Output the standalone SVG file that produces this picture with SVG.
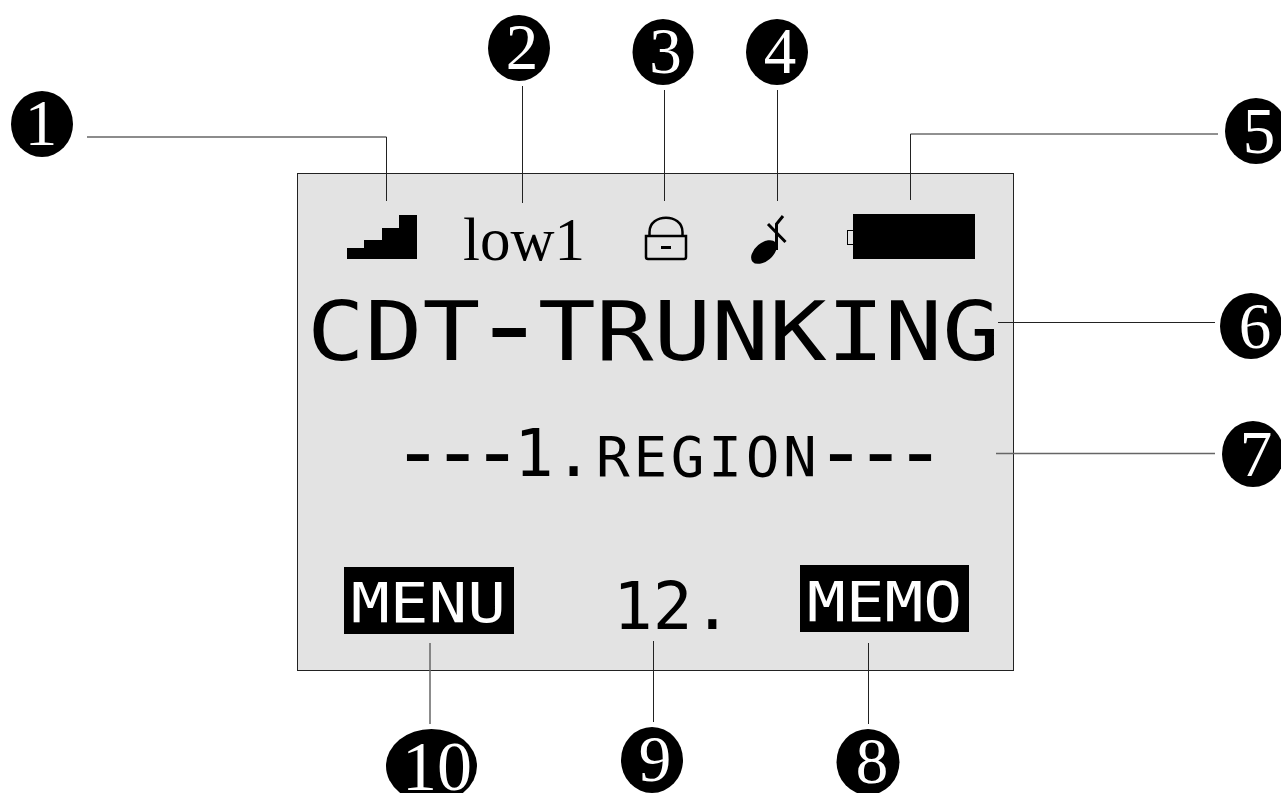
<svg xmlns="http://www.w3.org/2000/svg" width="1281" height="793" viewBox="0 0 1281 793">
<style>
.b{fill:#000}
.n{font-family:"Liberation Serif",serif;fill:#fff;text-anchor:middle;font-size:65px}
.m{font-family:"DejaVu Sans Mono",monospace;fill:#000}
.w{font-family:"DejaVu Sans Mono",monospace;fill:#fff;font-size:55px}
.c{fill:none;stroke:#222;stroke-width:1}
.g{fill:none;stroke:#666;stroke-width:1.5}
</style>
<rect width="1281" height="793" fill="#fff"/>
<g id="panel"><rect x="297.5" y="173.5" width="716" height="497" fill="#e3e3e3" stroke="#222" stroke-width="1"/></g>
<g id="connectors">
<path class="g" d="M87 137H386.500"/>
<path class="c" d="M386.500 137V201"/>
<path class="c" d="M522.500 86V203"/>
<path class="c" d="M664.500 90V201"/>
<path class="c" d="M777.500 90V201"/>
<path class="c" d="M1218 134H910.500V200"/>
<path class="c" d="M998 322.500H1215"/>
<path class="g" d="M996 453.500H1215"/>
<path class="c" d="M868.500 643V724"/>
<path class="c" d="M653.500 641V722"/>
<path class="g" d="M430 643V724"/>
</g>
<g id="icon-signal"><path class="b" d="M347 259V248H364V240H382V228H399V215H417V259Z"/></g>
<g id="label-low"><text x="463" y="260" font-family="Liberation Serif,serif" font-size="61" fill="#000">low1</text></g>
<g id="icon-lock"><path d="M646 236H686V257Q686 259 684 259H648Q646 259 646 257Z M649.500 236V232C649.500 213 682.500 213 682.500 232V236" fill="none" stroke="#000" stroke-width="2.500"/><rect x="661" y="246" width="10" height="3"/></g>
<g id="icon-note"><ellipse cx="764" cy="252" rx="15" ry="9" transform="rotate(-40 764 252)"/><path d="M776.500 250V224L783 216M768 224L785.500 242" fill="none" stroke="#000" stroke-width="3"/></g>
<g id="icon-battery"><rect x="847.500" y="230.500" width="7" height="14" fill="none" stroke="#000"/><rect x="853" y="214" width="122" height="45"/></g>
<g id="text-title"><text class="m" transform="translate(307 360) scale(1.17 1)" font-size="82">CDT<tspan dx="-9" dy="3" font-size="112">-</tspan><tspan dx="-9" dy="-3">TRUNKING</tspan></text></g>
<g id="text-region"><text class="m" x="392" y="481" font-size="86" letter-spacing="-12.100">---<tspan x="514" y="476" font-size="66" letter-spacing="0">1.</tspan><tspan x="596" font-size="56" letter-spacing="3.700">REGION</tspan><tspan x="815" y="481" font-size="86" letter-spacing="-12.100">---</tspan></text></g>
<g id="softkey-menu"><rect x="344" y="567" width="170" height="67"/><text class="w" transform="translate(351 622) scale(1.17 1)">MENU</text></g>
<g id="text-number"><text class="m" x="613" y="629" font-size="66">12.</text></g>
<g id="softkey-memo"><rect x="800" y="565" width="169" height="67"/><text class="w" transform="translate(807 620.500) scale(1.17 1)">MEMO</text></g>
<g id="n1"><ellipse cx="42" cy="124" rx="31" ry="33"/><text class="n" x="41" y="145">1</text></g>
<g id="n2"><ellipse cx="519" cy="48" rx="31" ry="33"/><text class="n" x="522" y="69">2</text></g>
<g id="n3"><ellipse cx="663" cy="52" rx="30.500" ry="33"/><text class="n" x="665.500" y="73">3</text></g>
<g id="n4"><ellipse cx="777" cy="52" rx="31" ry="33"/><text class="n" x="780" y="73">4</text></g>
<g id="n5"><ellipse cx="1256" cy="131" rx="31" ry="33"/><text class="n" x="1259" y="153">5</text></g>
<g id="n6"><ellipse cx="1251" cy="326" rx="31" ry="33"/><text class="n" x="1255" y="348">6</text></g>
<g id="n7"><ellipse cx="1253" cy="454" rx="31" ry="33"/><text class="n" x="1256" y="476">7</text></g>
<g id="n8"><ellipse cx="868" cy="762" rx="31.500" ry="33"/><text class="n" x="872" y="783">8</text></g>
<g id="n9"><ellipse cx="652" cy="760" rx="31" ry="33"/><text class="n" x="655" y="781">9</text></g>
<g id="n10"><ellipse cx="431.500" cy="766" rx="45.500" ry="37"/><text class="n" x="437" y="790" style="font-size:70px">10</text></g>
</svg>
